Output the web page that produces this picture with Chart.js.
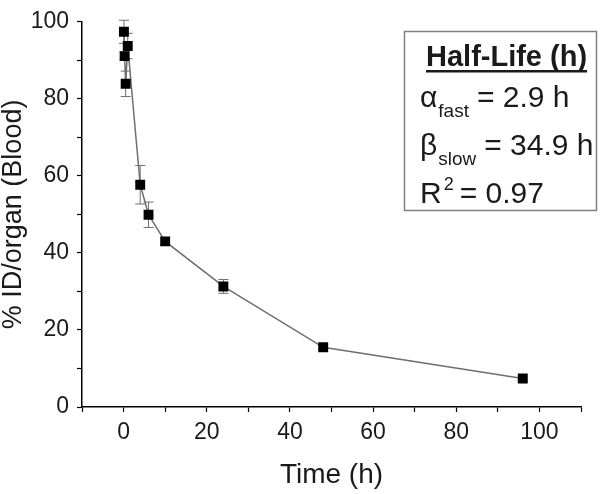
<!DOCTYPE html>
<html>
<head>
<meta charset="utf-8">
<script src="https://cdn.jsdelivr.net/npm/chart.js@4"></script>
<style>
  html, body { margin: 0; padding: 0; background: #fff; }
  #wrap { width: 600px; height: 494px; }
</style>
</head>
<body>
<div id="wrap"><canvas id="pkChart" width="600" height="494"></canvas></div>
<script>
// --- Data ---
const timeHours = [0.083, 0.25, 0.5, 1, 4, 6, 10, 24, 48, 96];
const bloodPct  = [97.4, 91.1, 83.9, 93.7, 57.7, 49.9, 43.0, 31.3, 15.5, 7.4];
const bloodErr  = [3.0, 1.0, 3.3, 3.3, 5.0, 3.3, 1.0, 1.8, 0.6, 0.6];

const xTickLabels = [0, 20, 40, 60, 80, 100];
const yTickLabels = [0, 20, 40, 60, 80, 100];

const boxTitle = 'Half-Life (h)';
const boxRows = [
    { sym: 'α', sub: 'fast', rest: '= 2.9 h' },
    { sym: 'β', sub: 'slow', rest: '= 34.9 h' }
];
const boxFit = { base: 'R', sup: '2', rest: '= 0.97' };

const FONT = "'Liberation Sans', Arial, Helvetica, sans-serif";
const INK = '#1a1a1a';

// --- Plugins ---
// vertical error bars with caps, drawn under the markers
const errorBars = {
    id: 'errorBars',
    beforeDatasetsDraw(chart) {
        const { ctx, scales: { x, y } } = chart;
        ctx.save();
        ctx.strokeStyle = '#707070';
        ctx.lineWidth = 1;
        timeHours.forEach((t, i) => {
            const px = x.getPixelForValue(t);
            const top = y.getPixelForValue(bloodPct[i] + bloodErr[i]);
            const bot = y.getPixelForValue(bloodPct[i] - bloodErr[i]);
            ctx.beginPath();
            ctx.moveTo(px, top); ctx.lineTo(px, bot);
            ctx.moveTo(px - 5, top); ctx.lineTo(px + 5, top);
            ctx.moveTo(px - 5, bot); ctx.lineTo(px + 5, bot);
            ctx.stroke();
        });
        ctx.restore();
    }
};

// the boxed half-life annotation
const halfLifeBox = {
    id: 'halfLifeBox',
    afterDraw(chart) {
        const ctx = chart.ctx;
        ctx.save();
        ctx.strokeStyle = '#808080';
        ctx.lineWidth = 1.5;
        ctx.strokeRect(404.5, 31.5, 192, 179);

        ctx.fillStyle = INK;
        ctx.textBaseline = 'alphabetic';
        ctx.textAlign = 'left';

        ctx.font = `bold 29px ${FONT}`;
        ctx.fillText(boxTitle, 426, 66);
        ctx.fillRect(426, 70, ctx.measureText(boxTitle).width, 2.5);

        const rowY = [107, 155];
        boxRows.forEach((r, i) => {
            let x = 420;
            ctx.font = `30px ${FONT}`;
            ctx.fillText(r.sym, x, rowY[i]);
            x += ctx.measureText(r.sym).width + 1;
            ctx.font = `19px ${FONT}`;
            ctx.fillText(r.sub, x, rowY[i] + 10);
            x += ctx.measureText(r.sub).width + 8;
            ctx.font = `30px ${FONT}`;
            ctx.fillText(r.rest, x, rowY[i]);
        });

        let x = 420;
        const yFit = 203;
        ctx.font = `30px ${FONT}`;
        ctx.fillText(boxFit.base, x, yFit);
        x += ctx.measureText(boxFit.base).width + 2;
        ctx.font = `18px ${FONT}`;
        ctx.fillText(boxFit.sup, x, yFit - 13);
        x += ctx.measureText(boxFit.sup).width + 6;
        ctx.font = `30px ${FONT}`;
        ctx.fillText(boxFit.rest, x, yFit);
        ctx.restore();
    }
};

// --- Chart ---
const points = timeHours.map((t, i) => ({ x: t, y: bloodPct[i] }));

new Chart(document.getElementById('pkChart').getContext('2d'), {
    type: 'scatter',
    data: {
        datasets: [{
            label: 'Blood',
            data: points,
            showLine: true,
            borderColor: '#6e6e6e',
            borderWidth: 1.5,
            pointStyle: 'rect',
            pointRadius: 7,
            pointBackgroundColor: '#000',
            pointBorderColor: '#000',
            pointBorderWidth: 0
        }]
    },
    options: {
        responsive: false,
        animation: false,
        layout: { padding: { top: 14, right: 19, left: 0, bottom: 0 } },
        plugins: { legend: { display: false }, tooltip: { enabled: false } },
        scales: {
            x: {
                type: 'linear',
                min: -10, max: 110,
                afterFit: (s) => { s.height = 87; },
                border: { display: true, color: '#000', width: 1.5 },
                grid: { drawOnChartArea: false, drawTicks: true, tickLength: 5, tickWidth: 1.2, tickColor: '#000' },
                ticks: {
                    stepSize: 10, autoSkip: false, maxRotation: 0, padding: 7,
                    color: INK, font: { family: FONT, size: 23 },
                    callback: (v) => xTickLabels.includes(v) ? String(v) : ''
                },
                title: {
                    display: true, text: 'Time (h)', color: INK,
                    font: { family: FONT, size: 28, lineHeight: 1 },
                    padding: { top: 0, bottom: 5 }
                }
            },
            y: {
                type: 'linear',
                min: 0, max: 100,
                afterFit: (s) => { s.width = 82; },
                border: { display: true, color: '#000', width: 1.5 },
                grid: { drawOnChartArea: false, drawTicks: true, tickLength: 5, tickWidth: 1.2, tickColor: '#000' },
                ticks: {
                    stepSize: 10, autoSkip: false, padding: 8,
                    color: INK, font: { family: FONT, size: 23 },
                    callback: (v) => yTickLabels.includes(v) ? String(v) : ''
                },
                title: {
                    display: true, text: '% ID/organ (Blood)', color: INK,
                    font: { family: FONT, size: 27, lineHeight: 1 },
                    padding: { top: 0, bottom: 0 }
                }
            }
        }
    },
    plugins: [errorBars, halfLifeBox]
});
</script>
</body>
</html>
